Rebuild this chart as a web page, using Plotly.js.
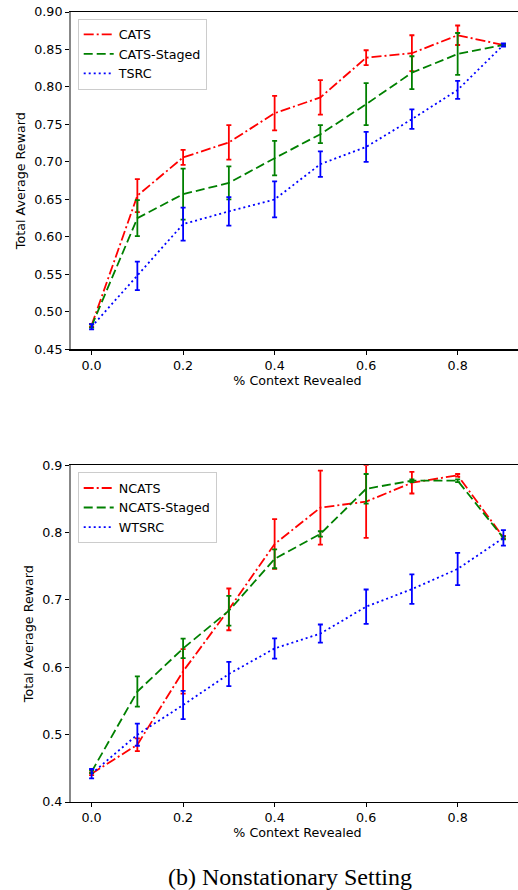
<!DOCTYPE html>
<html>
<head>
<meta charset="utf-8">
<script src="https://cdn.plot.ly/plotly-3.0.1.min.js"></script>
<style>
html,body{margin:0;padding:0;overflow:hidden;background:#fff;width:518px;height:890px;}
#chart{width:530px;height:890px;}
</style>
</head>
<body>
<div id="chart"></div>
<script>
// ---- data ----
const contextRevealed = [0.0, 0.1, 0.2, 0.3, 0.4, 0.5, 0.6, 0.7, 0.8, 0.9];
const xTickVals = [0.0, 0.2, 0.4, 0.6, 0.8];
const xTickText = ["0.0", "0.2", "0.4", "0.6", "0.8"];

// (a) stationary (top)
const catsMean   = [0.482, 0.655, 0.706, 0.726, 0.765, 0.786, 0.839, 0.845, 0.869, 0.856];
const catsErr    = [0.002, 0.022, 0.010, 0.023, 0.023, 0.023, 0.010, 0.024, 0.013, 0.001];
const stagedMean = [0.481, 0.625, 0.657, 0.672, 0.705, 0.737, 0.777, 0.819, 0.844, 0.856];
const stagedErr  = [0.002, 0.024, 0.034, 0.022, 0.023, 0.012, 0.028, 0.022, 0.028, 0.001];
const tsrcMean   = [0.480, 0.548, 0.617, 0.634, 0.650, 0.697, 0.720, 0.757, 0.796, 0.856];
const tsrcErr    = [0.0035, 0.019, 0.022, 0.019, 0.024, 0.017, 0.020, 0.013, 0.012, 0.002];
const topYTicks  = [0.45, 0.50, 0.55, 0.60, 0.65, 0.70, 0.75, 0.80, 0.85, 0.90];

// (b) nonstationary (bottom)
const ncatsMean   = [0.442, 0.485, 0.594, 0.686, 0.783, 0.837, 0.846, 0.874, 0.885, 0.793];
const ncatsErr    = [0.002, 0.0095, 0.033, 0.031, 0.037, 0.055, 0.054, 0.016, 0.002, 0.002];
const nstagedMean = [0.445, 0.564, 0.628, 0.684, 0.761, 0.798, 0.865, 0.877, 0.877, 0.792];
const nstagedErr  = [0.002, 0.0225, 0.0145, 0.022, 0.014, 0.004, 0.022, 0.002, 0.002, 0.002];
const wtsrcMean   = [0.442, 0.500, 0.544, 0.590, 0.628, 0.650, 0.690, 0.716, 0.746, 0.792];
const wtsrcErr    = [0.007, 0.0165, 0.021, 0.018, 0.015, 0.0135, 0.0255, 0.022, 0.024, 0.0115];
const botYTicks   = [0.4, 0.5, 0.6, 0.7, 0.8, 0.9];

const figTitle = "(b) Nonstationary Setting";

// ---- styles ----
const RED = "#ff0000", GREEN = "#008000", BLUE = "#0000ff";
const DASHDOT = "10px,3px,2px,3px", DASH = "9px,4px", DOT = "2px,3px";
const LW = 1.8;

function tr(name, y, err, color, dash, xa, ya, leg) {
  return {
    type: "scatter", mode: "lines", name: name,
    x: contextRevealed, y: y,
    xaxis: xa, yaxis: ya, legend: leg,
    line: {color: color, width: LW, dash: dash},
    error_y: {type: "data", array: err, visible: true, color: color, thickness: 1.8, width: 2.5}
  };
}

const traces = [
  tr("CATS", catsMean, catsErr, RED, DASHDOT, "x", "y", "legend"),
  tr("CATS-Staged", stagedMean, stagedErr, GREEN, DASH, "x", "y", "legend"),
  tr("TSRC", tsrcMean, tsrcErr, BLUE, DOT, "x", "y", "legend"),
  tr("NCATS", ncatsMean, ncatsErr, RED, DASHDOT, "x2", "y2", "legend2"),
  tr("NCATS-Staged", nstagedMean, nstagedErr, GREEN, DASH, "x2", "y2", "legend2"),
  tr("WTSRC", wtsrcMean, wtsrcErr, BLUE, DOT, "x2", "y2", "legend2")
];

const FONT = {family: "DejaVu Sans", size: 12.7, color: "#000"};

function xAxis(anchor) {
  return {
    anchor: anchor, domain: [0, 1], range: [-0.045, 0.945],
    tickmode: "array", tickvals: xTickVals, ticktext: xTickText,
    ticks: "outside", ticklen: 4, tickwidth: 1, tickcolor: "#000",
    showline: true, linecolor: "#000", linewidth: 1.2, mirror: true,
    showgrid: false, zeroline: false, tickfont: FONT,
    title: {text: "% Context Revealed", font: FONT, standoff: 3}
  };
}
function yAxis(anchor, domain, range, ticks, fmt) {
  return {
    anchor: anchor, domain: domain, range: range,
    tickmode: "array", tickvals: ticks, ticktext: ticks.map(v => v.toFixed(fmt)),
    ticks: "outside", ticklen: 4, tickwidth: 1, tickcolor: "#000",
    showline: true, linecolor: "#888", linewidth: 2, mirror: false,
    showgrid: false, zeroline: false, tickfont: FONT,
    title: {text: "Total Average Reward", font: FONT, standoff: 6}
  };
}

const legendStyle = {
  bgcolor: "rgba(255,255,255,0.8)", bordercolor: "#cccccc", borderwidth: 1,
  font: FONT, xanchor: "left", yanchor: "top", tracegroupgap: 0
};

const layout = {
  width: 530, height: 890,
  margin: {l: 71, r: 6, t: 12, b: 88},
  paper_bgcolor: "#fff", plot_bgcolor: "#fff",
  showlegend: true,
  xaxis: xAxis("y"),
  yaxis: yAxis("x", [0.573, 1], [0.45, 0.90], topYTicks, 2),
  xaxis2: xAxis("y2"),
  yaxis2: yAxis("x2", [0, 0.4263], [0.4, 0.9], botYTicks, 1),
  legend: Object.assign({x: 0.0148, y: 0.9917}, legendStyle),
  legend2: Object.assign({x: 0.0148, y: 0.4174}, legendStyle),
  annotations: [{
    text: figTitle, xref: "paper", yref: "paper", x: 0.4834, y: -0.0954,
    xanchor: "center", yanchor: "middle", showarrow: false,
    font: {family: "Liberation Serif", size: 24, color: "#000"}
  }]
};

Plotly.newPlot("chart", traces, layout, {staticPlot: true, displayModeBar: false});
</script>
</body>
</html>
